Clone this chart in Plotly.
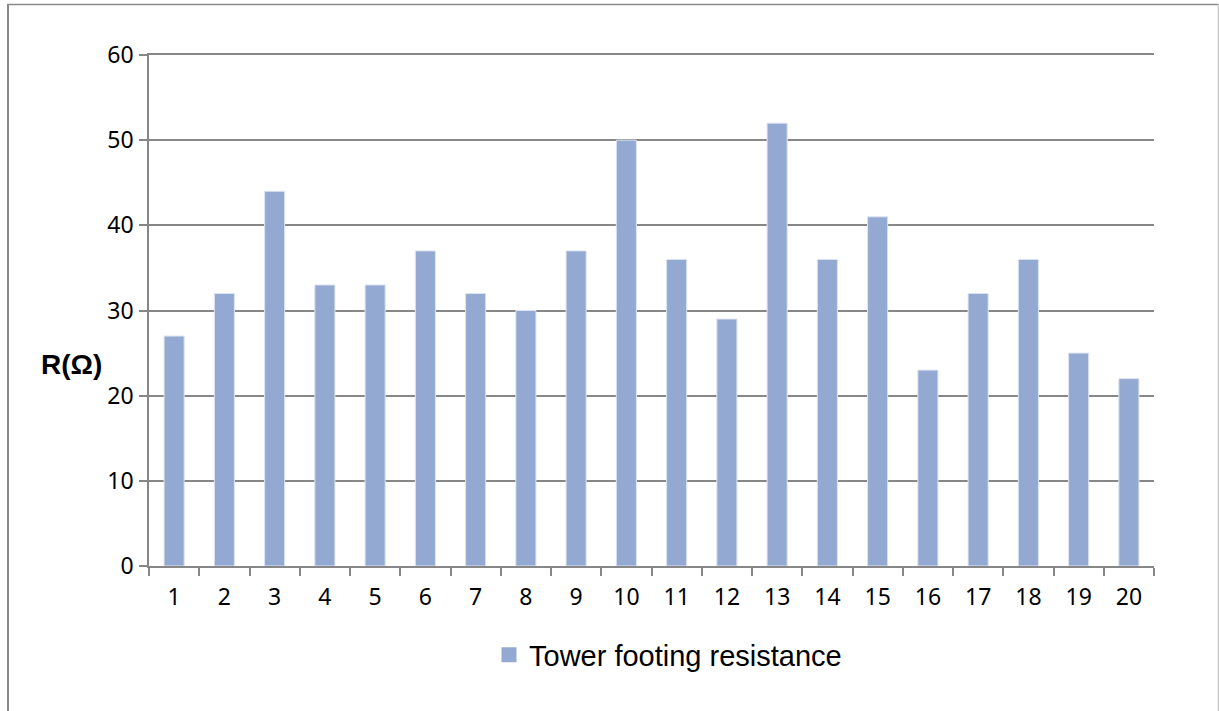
import plotly.graph_objects as go

categories = [str(i) for i in range(1, 21)]
resistance = [27, 32, 44, 33, 33, 37, 32, 30, 37, 50, 36, 29, 52, 36, 41, 23, 32, 36, 25, 22]
series_name = "Tower footing resistance"
y_ticks = [0, 10, 20, 30, 40, 50, 60]

W, H = 1219, 711
ml, mr, mt, mb = 149, 65, 55, 145
pw = W - ml - mr
ph = H - mt - mb
BAR_COLOR = "#94A9D2"
GRID = "#878787"

def px_x(x):
    return (x - ml) / pw

def px_y(y):
    return (H - mb - y) / ph

fig = go.Figure()
fig.add_trace(go.Bar(
    x=categories, y=resistance, name=series_name,
    marker=dict(color=BAR_COLOR, line=dict(color="#DCE4F2", width=1)),
    showlegend=False,
))
fig.add_trace(go.Scatter(
    x=[None], y=[None], mode="markers", name=series_name,
    marker=dict(symbol="square", size=15, color=BAR_COLOR),
    showlegend=True,
))

fig.update_layout(
    width=W, height=H,
    margin=dict(l=ml, r=mr, t=mt, b=mb, pad=0),
    paper_bgcolor="white", plot_bgcolor="white",
    bargap=0.6,
    showlegend=True,
    legend=dict(
        orientation="h", x=px_x(668), y=px_y(655), xanchor="center", yanchor="middle",
        font=dict(family="Liberation Sans, Arial", size=29, color="black"),
        bgcolor="rgba(0,0,0,0)", itemwidth=30,
    ),
    xaxis=dict(
        type="category", showgrid=False, ticks="outside", tickson="boundaries",
        ticklen=8, tickcolor=GRID, tickwidth=1.5,
        showline=True, linecolor=GRID, linewidth=1.5, mirror=True,
        tickfont=dict(family="Noto Sans, Open Sans", size=23, color="black"),
        ticklabelstandoff=10,
    ),
    yaxis=dict(
        range=[0, 60], tickvals=y_ticks, showgrid=True, gridcolor=GRID, gridwidth=1.5,
        ticks="outside", ticklen=8, tickcolor=GRID, tickwidth=1.5,
        showline=True, linecolor=GRID, linewidth=1.5,
        zeroline=False,
        tickfont=dict(family="Noto Sans, Open Sans", size=23, color="black"),
        ticklabelstandoff=1,
    ),
    shapes=[
        dict(type="line", xref="paper", yref="paper", x0=px_x(8), x1=px_x(8), y0=px_y(4), y1=px_y(712),
             line=dict(color="#8A8A8A", width=2)),
        dict(type="line", xref="paper", yref="paper", x0=px_x(7), x1=px_x(1219), y0=px_y(4.5), y1=px_y(4.5),
             line=dict(color="#8A8A8A", width=1.5)),
        dict(type="line", xref="paper", yref="paper", x0=px_x(1218.5), x1=px_x(1218.5), y0=px_y(4), y1=px_y(712),
             line=dict(color="#C8C8C8", width=1.5)),
    ],
    annotations=[
        dict(text="<b>R(Ω)</b>", xref="paper", yref="paper", x=px_x(71), y=px_y(364),
             xanchor="center", yanchor="middle", showarrow=False,
             font=dict(family="Liberation Sans, Arial", size=28, color="black")),
    ],
)

fig.write_html("out.html")
